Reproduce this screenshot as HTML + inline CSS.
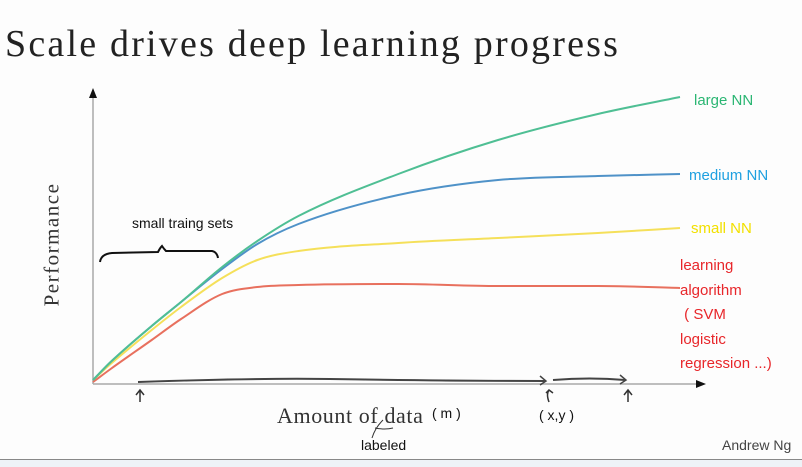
<!DOCTYPE html>
<html><head><meta charset="utf-8"><style>
body{margin:0;width:802px;height:466px;background:#fdfdfd;overflow:hidden;position:relative;font-family:"Liberation Sans",sans-serif}
.t{position:absolute;white-space:nowrap}
</style></head><body>
<div class="t" style="left:5px;top:22px;font-family:'Liberation Serif',serif;font-size:38px;letter-spacing:2.2px;color:#222">Scale drives deep learning progress</div>
<div class="t" style="left:694px;top:92px;font-size:15px;color:#2bb673">large NN</div>
<div class="t" style="left:689px;top:167px;font-size:15px;color:#1ea0e0">medium NN</div>
<div class="t" style="left:691px;top:220px;font-size:15px;color:#f2e000">small NN</div>
<div class="t" style="left:680px;top:254px;font-size:15px;color:#e8262a;line-height:24.5px">learning<br>algorithm<br>&nbsp;( SVM<br>logistic<br>regression ...)</div>
<div class="t" style="left:132px;top:215px;font-size:14px;color:#111">small traing sets</div>
<div class="t" style="left:-10px;top:232px;transform:rotate(-90deg);font-family:'Liberation Serif',serif;font-size:21px;letter-spacing:1.5px;color:#333">Performance</div>
<div class="t" style="left:277px;top:403px;font-family:'Liberation Serif',serif;font-size:22px;letter-spacing:0.6px;color:#333">Amount of data</div>
<div class="t" style="left:432px;top:405px;font-size:14px;color:#111">( m )</div>
<div class="t" style="left:539px;top:407px;font-size:14px;color:#111">( x,y )</div>
<div class="t" style="left:361px;top:437px;font-size:14px;color:#111">labeled</div>
<div class="t" style="left:722px;top:437px;font-size:14px;color:#444">Andrew Ng</div>
<div style="position:absolute;left:0;top:459px;width:802px;height:7px;background:#eef2f7;border-top:1px solid #888"></div>
<svg id="c" width="802" height="466" style="position:absolute;left:0;top:0">
<line x1="93" y1="384" x2="93" y2="96" stroke="#aaa" stroke-width="1.5"/>
<polygon points="93,88 89,98 97,98" fill="#111"/>
<line x1="93" y1="384" x2="698" y2="384" stroke="#aaa" stroke-width="1.5"/>
<polygon points="706,384 696,380 696,388" fill="#111"/>
<path d="M100,262 Q101,254 112,253 L158,252 Q160,248 162,246 Q164,249 166,251 L212,251 Q217,252 218,258" fill="none" stroke="#111" stroke-width="2"/>
<path d="M138,382 Q250,378 330,379 Q450,381 545,381 M553,380 Q590,377 625,380" fill="none" stroke="#444" stroke-width="2"/>
<path d="M540,376 L546,381 L540,385 M620,375 L626,380 L620,384" fill="none" stroke="#444" stroke-width="1.5"/>
<path d="M140,402 L140,390 M136,395 L140,390 L144,395 M628,402 L628,390 M624,395 L628,390 L632,395 M549,402 Q546,394 549,390 M546,393 L549,390 L553,393" fill="none" stroke="#333" stroke-width="1.5"/>
<path d="M372,438 Q375,428 383,420 M375,428 Q385,430 393,428" fill="none" stroke="#333" stroke-width="1"/>
</svg>
<script>
const xs=[0,3,10,15,22,28,35,52,69,86,100];
const largeNN=[4,22,58,82,117,143,168,210,244,270,287];
const mediumNN=[4,22,58,82,115,140,160,189,204,208,210];
const smallNN=[4,20,54,77,106,124,133,141,146,151,156];
const svm=[2,15,44,65,90,97,99,100,98,98,96];
const X=v=>93+v*5.87, Y=v=>384-v;
const svg=document.getElementById('c');
function draw(vals,color,name){
  const p=xs.map((x,i)=>[X(x),Y(vals[i])]);
  const n=p.length, m=[];
  const dd=[];for(let i=0;i<n-1;i++)dd.push((p[i+1][1]-p[i][1])/(p[i+1][0]-p[i][0]));
  for(let i=0;i<n;i++){
    if(i===0)m.push(dd[0]);else if(i===n-1)m.push(dd[n-2]);
    else m.push(dd[i-1]*dd[i]<=0?0:(dd[i-1]+dd[i])/2);
  }
  let d='M'+p[0][0]+','+p[0][1];
  for(let i=0;i<n-1;i++){
    const h=(p[i+1][0]-p[i][0])/3;
    d+=' C'+(p[i][0]+h)+','+(p[i][1]+m[i]*h)+' '+(p[i+1][0]-h)+','+(p[i+1][1]-m[i+1]*h)+' '+p[i+1][0]+','+p[i+1][1];
  }
  const el=document.createElementNS('http://www.w3.org/2000/svg','path');
  el.setAttribute('d',d);el.setAttribute('fill','none');el.setAttribute('stroke',color);el.setAttribute('stroke-width','2');
  
  
  svg.appendChild(el);
}
draw(svm,'#e8705e','svm-line');
draw(smallNN,'#f5e05a','small-nn-line');
draw(mediumNN,'#4f92c8','medium-nn-line');
draw(largeNN,'#4fbf94','large-nn-line');
</script>
</body></html>
